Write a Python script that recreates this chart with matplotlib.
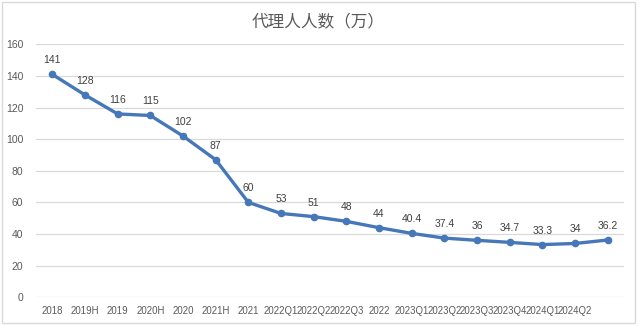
import matplotlib.pyplot as plt
from matplotlib.patches import Rectangle

plt.rcParams['font.family'] = ['Liberation Sans', 'Noto Sans CJK SC', 'DejaVu Sans']

categories = ["2018", "2019H", "2019", "2020H", "2020", "2021H", "2021",
              "2022Q1", "2022Q2", "2022Q3", "2022", "2023Q1", "2023Q2",
              "2023Q3", "2023Q4", "2024Q1", "2024Q2", ""]
agents = [141, 128, 116, 115, 102, 87, 60, 53, 51, 48, 44, 40.4, 37.4,
          36, 34.7, 33.3, 34, 36.2]
y_ticks = [0, 20, 40, 60, 80, 100, 120, 140, 160]
title = "代理人人数（万）"

line_color = "#4677b8"
text_color = "#595959"

fig = plt.figure(figsize=(6.4, 3.26), dpi=100)
ax = fig.add_axes([36 / 640, 1 - 297.2 / 326, 588 / 640, 252.8 / 326])

x = list(range(len(agents)))
ax.plot(x, agents, color=line_color, linewidth=2.4, marker='o',
        markersize=4.5, zorder=3)

for xi, v in zip(x, agents):
    ax.annotate(f"{v:g}", (xi, v), xytext=(0, 6.5), textcoords='offset points',
                ha='center', va='bottom', fontsize=7.5, color='#404040')

ax.set_xlim(-0.5, len(agents) - 0.5)
ax.set_ylim(0, 160)
ax.set_yticks(y_ticks)
ax.set_xticks(x)
ax.set_xticklabels(categories)
ax.tick_params(axis='both', length=0, labelsize=7.5, colors=text_color)
ax.tick_params(axis='x', pad=6, labelsize=6.9)
ax.tick_params(axis='y', pad=9)
ax.grid(axis='y', color='#d9d9d9', linewidth=0.9)
ax.set_axisbelow(True)
for s in ax.spines.values():
    s.set_visible(False)

fig.text(318 / 640, 1 - 22 / 326, title, ha='center', va='center',
         fontsize=12, color=text_color, family=['Noto Sans CJK SC', 'DejaVu Sans'])

# chart frame
fig.patches.append(Rectangle((2 / 640, 1 - 323 / 326), 633 / 640, 321 / 326,
                             transform=fig.transFigure, fill=False,
                             edgecolor='#d9d9d9', linewidth=1))

fig.savefig("out.png", dpi=100, facecolor='white')
